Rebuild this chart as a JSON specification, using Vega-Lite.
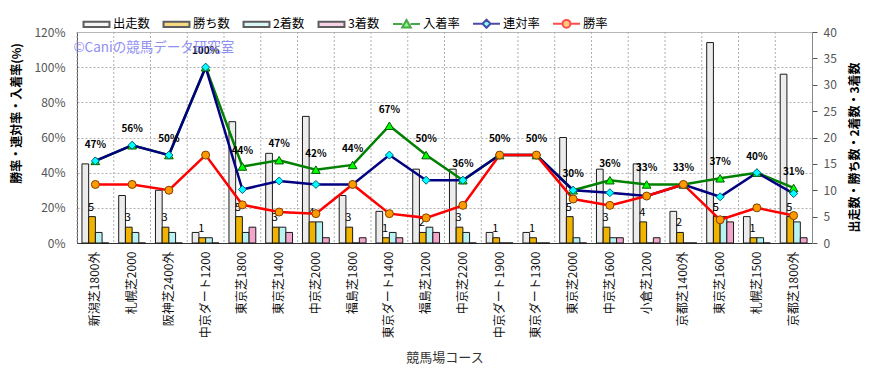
{
  "$schema": "https://vega.github.io/schema/vega-lite/v6.json",
  "width": 735,
  "height": 211,
  "autosize": {"type": "none"},
  "padding": {"left": 77, "top": 32, "right": 69, "bottom": 135},
  "background": "#ffffff",
  "datasets": {
    "courses": [
      {"course": "新潟芝1800外", "出走数": 15, "勝ち数": 5, "2着数": 2, "3着数": 0, "入着率": 0.467, "連対率": 0.467, "勝率": 0.333},
      {"course": "札幌芝2000", "出走数": 9, "勝ち数": 3, "2着数": 2, "3着数": 0, "入着率": 0.556, "連対率": 0.556, "勝率": 0.333},
      {"course": "阪神芝2400外", "出走数": 10, "勝ち数": 3, "2着数": 2, "3着数": 0, "入着率": 0.5, "連対率": 0.5, "勝率": 0.3},
      {"course": "中京ダート1200", "出走数": 2, "勝ち数": 1, "2着数": 1, "3着数": 0, "入着率": 1.0, "連対率": 1.0, "勝率": 0.5},
      {"course": "東京芝1800", "出走数": 23, "勝ち数": 5, "2着数": 2, "3着数": 3, "入着率": 0.435, "連対率": 0.304, "勝率": 0.217},
      {"course": "東京芝1400", "出走数": 17, "勝ち数": 3, "2着数": 3, "3着数": 2, "入着率": 0.471, "連対率": 0.353, "勝率": 0.176},
      {"course": "中京芝2000", "出走数": 24, "勝ち数": 4, "2着数": 4, "3着数": 1, "入着率": 0.417, "連対率": 0.333, "勝率": 0.167},
      {"course": "福島芝1800", "出走数": 9, "勝ち数": 3, "2着数": 0, "3着数": 1, "入着率": 0.444, "連対率": 0.333, "勝率": 0.333},
      {"course": "東京ダート1400", "出走数": 6, "勝ち数": 1, "2着数": 2, "3着数": 1, "入着率": 0.667, "連対率": 0.5, "勝率": 0.167},
      {"course": "福島芝1200", "出走数": 14, "勝ち数": 2, "2着数": 3, "3着数": 2, "入着率": 0.5, "連対率": 0.357, "勝率": 0.143},
      {"course": "中京芝2200", "出走数": 14, "勝ち数": 3, "2着数": 2, "3着数": 0, "入着率": 0.357, "連対率": 0.357, "勝率": 0.214},
      {"course": "中京ダート1900", "出走数": 2, "勝ち数": 1, "2着数": 0, "3着数": 0, "入着率": 0.5, "連対率": 0.5, "勝率": 0.5},
      {"course": "東京ダート1300", "出走数": 2, "勝ち数": 1, "2着数": 0, "3着数": 0, "入着率": 0.5, "連対率": 0.5, "勝率": 0.5},
      {"course": "東京芝2000", "出走数": 20, "勝ち数": 5, "2着数": 1, "3着数": 0, "入着率": 0.3, "連対率": 0.3, "勝率": 0.25},
      {"course": "中京芝1600", "出走数": 14, "勝ち数": 3, "2着数": 1, "3着数": 1, "入着率": 0.357, "連対率": 0.286, "勝率": 0.214},
      {"course": "小倉芝1200", "出走数": 15, "勝ち数": 4, "2着数": 0, "3着数": 1, "入着率": 0.333, "連対率": 0.267, "勝率": 0.267},
      {"course": "京都芝1400外", "出走数": 6, "勝ち数": 2, "2着数": 0, "3着数": 0, "入着率": 0.333, "連対率": 0.333, "勝率": 0.333},
      {"course": "東京芝1600", "出走数": 38, "勝ち数": 5, "2着数": 5, "3着数": 4, "入着率": 0.368, "連対率": 0.263, "勝率": 0.132},
      {"course": "札幌芝1500", "出走数": 5, "勝ち数": 1, "2着数": 1, "3着数": 0, "入着率": 0.4, "連対率": 0.4, "勝率": 0.2},
      {"course": "京都芝1800外", "出走数": 32, "勝ち数": 5, "2着数": 4, "3着数": 1, "入着率": 0.313, "連対率": 0.281, "勝率": 0.156}
    ]
  },
  "data": {"name": "courses"},
  "config": {
    "font": "Noto Sans CJK JP",
    "view": {"fill": "#fbf0d8", "stroke": "#bdbdbd", "strokeWidth": 1},
    "scale": {"bandPaddingInner": 0, "bandPaddingOuter": 0},
    "axis": {"labelFont": "Noto Sans CJK JP", "titleFont": "Noto Sans CJK JP", "labelColor": "#555555", "titleColor": "#000000", "domainColor": "#555555", "tickColor": "#555555"},
    "axisX": {"labelAngle": 270, "labelFontSize": 12, "labelColor": "#111111", "ticks": false, "labelPadding": 8, "domainColor": "#333333", "grid": false, "titleFontSize": 13, "titleFontWeight": "normal", "titleColor": "#333333", "titlePadding": 14},
    "legend": {"orient": "none", "legendX": 5, "legendY": -23, "direction": "horizontal", "padding": 0, "symbolSize": 729, "symbolStrokeWidth": 2, "labelFontSize": 12.3, "labelColor": "#000000", "labelOffset": 2, "columnPadding": 9, "labelFont": "Noto Sans CJK JP"}
  },
  "layer": [
    {
      "mark": {"type": "rule", "strokeDash": [2, 2], "color": "#b0b0b0", "strokeWidth": 1},
      "encoding": {
        "x": {"field": "course", "type": "nominal", "sort": null, "bandPosition": 0, "scale": {"paddingInner": 0, "paddingOuter": 0}, "title": "競馬場コース"}
      }
    },
    {
      "layer": [
        {
          "transform": [{"fold": ["出走数", "勝ち数", "2着数", "3着数"], "as": ["series", "count"]}],
          "mark": {"type": "bar", "stroke": "#1a1a1a", "strokeWidth": 1},
          "encoding": {
            "x": {"field": "course", "type": "nominal", "sort": null, "title": "競馬場コース"},
            "xOffset": {"field": "series", "type": "nominal", "scale": {"domain": ["出走数", "勝ち数", "2着数", "3着数"], "paddingInner": 0, "paddingOuter": 0.74}},
            "y": {
              "field": "count", "type": "quantitative", "scale": {"domain": [0, 40]},
              "title": "出走数・勝ち数・2着数・3着数",
              "axis": {"orient": "right", "values": [0, 5, 10, 15, 20, 25, 30, 35, 40], "grid": false, "tickSize": 5, "labelPadding": 6, "labelFontSize": 12, "titleAngle": 270, "titleFontSize": 12, "titlePadding": 25, "titleY": 115, "domainColor": "#888888"}
            },
            "color": {
              "field": "series", "type": "nominal",
              "scale": {"domain": ["出走数", "勝ち数", "2着数", "3着数"], "range": ["#ececec", "#f0b400", "#b8f2f2", "#f2a6cc"]},
              "legend": null
            }
          }
        },
        {
          "transform": [{"fold": ["出走数", "勝ち数", "2着数", "3着数"], "as": ["series", "count"]}, {"filter": {"field": "series", "equal": "勝ち数"}}],
          "mark": {"type": "text", "dy": -9, "dx": -1, "fontSize": 11, "color": "#000000"},
          "encoding": {
            "x": {"field": "course", "type": "nominal", "sort": null, "title": "競馬場コース"},
            "xOffset": {"field": "series", "type": "nominal", "scale": {"domain": ["出走数", "勝ち数", "2着数", "3着数"], "paddingInner": 0, "paddingOuter": 0.74}},
            "y": {
              "field": "count", "type": "quantitative", "scale": {"domain": [0, 40]},
              "title": "出走数・勝ち数・2着数・3着数",
              "axis": {"orient": "right", "values": [0, 5, 10, 15, 20, 25, 30, 35, 40], "grid": false, "tickSize": 5, "labelPadding": 6, "labelFontSize": 12, "titleAngle": 270, "titleFontSize": 12, "titlePadding": 25, "titleY": 115, "domainColor": "#888888"}
            },
            "text": {"field": "count", "type": "quantitative"}
          }
        }
      ]
    },
    {
      "encoding": {
        "x": {"field": "course", "type": "nominal", "sort": null, "title": "競馬場コース"}
      },
      "layer": [
        {
          "mark": {"type": "line", "strokeWidth": 2.5, "color": "#008000"},
          "encoding": {
            "y": {
              "field": "入着率", "type": "quantitative", "scale": {"domain": [0, 1.2]},
              "title": "勝率・連対率・入着率(%)",
              "axis": {"orient": "left", "values": [0, 0.2, 0.4, 0.6, 0.8, 1.0, 1.2], "format": ".0%", "grid": true, "gridDash": [2, 2], "gridColor": "#b0b0b0", "ticks": false, "labelPadding": 12, "labelFontSize": 12, "titleFontSize": 12, "titlePadding": 10, "titleY": 81}
            }
          }
        },
        {
          "mark": {"type": "line", "strokeWidth": 2.5, "color": "#000080"},
          "encoding": {
            "y": {
              "field": "連対率", "type": "quantitative", "scale": {"domain": [0, 1.2]},
              "title": "勝率・連対率・入着率(%)",
              "axis": {"orient": "left", "values": [0, 0.2, 0.4, 0.6, 0.8, 1.0, 1.2], "format": ".0%", "grid": true, "gridDash": [2, 2], "gridColor": "#b0b0b0", "ticks": false, "labelPadding": 12, "labelFontSize": 12, "titleFontSize": 12, "titlePadding": 10, "titleY": 81}
            }
          }
        },
        {
          "mark": {"type": "line", "strokeWidth": 2.5, "color": "#ff0000"},
          "encoding": {
            "y": {
              "field": "勝率", "type": "quantitative", "scale": {"domain": [0, 1.2]},
              "title": "勝率・連対率・入着率(%)",
              "axis": {"orient": "left", "values": [0, 0.2, 0.4, 0.6, 0.8, 1.0, 1.2], "format": ".0%", "grid": true, "gridDash": [2, 2], "gridColor": "#b0b0b0", "ticks": false, "labelPadding": 12, "labelFontSize": 12, "titleFontSize": 12, "titlePadding": 10, "titleY": 81}
            }
          }
        },
        {
          "mark": {"type": "point", "shape": "triangle-up", "filled": true, "fill": "#00ff00", "stroke": "#005a00", "strokeWidth": 1, "size": 75, "opacity": 1},
          "encoding": {
            "y": {
              "field": "入着率", "type": "quantitative", "scale": {"domain": [0, 1.2]},
              "title": "勝率・連対率・入着率(%)",
              "axis": {"orient": "left", "values": [0, 0.2, 0.4, 0.6, 0.8, 1.0, 1.2], "format": ".0%", "grid": true, "gridDash": [2, 2], "gridColor": "#b0b0b0", "ticks": false, "labelPadding": 12, "labelFontSize": 12, "titleFontSize": 12, "titlePadding": 10, "titleY": 81}
            }
          }
        },
        {
          "mark": {"type": "point", "shape": "diamond", "filled": true, "fill": "#00ffff", "stroke": "#006080", "strokeWidth": 1, "size": 64, "opacity": 1},
          "encoding": {
            "y": {
              "field": "連対率", "type": "quantitative", "scale": {"domain": [0, 1.2]},
              "title": "勝率・連対率・入着率(%)",
              "axis": {"orient": "left", "values": [0, 0.2, 0.4, 0.6, 0.8, 1.0, 1.2], "format": ".0%", "grid": true, "gridDash": [2, 2], "gridColor": "#b0b0b0", "ticks": false, "labelPadding": 12, "labelFontSize": 12, "titleFontSize": 12, "titlePadding": 10, "titleY": 81}
            }
          }
        },
        {
          "mark": {"type": "point", "shape": "circle", "filled": true, "fill": "#ff9900", "stroke": "#804000", "strokeWidth": 1, "size": 64, "opacity": 1},
          "encoding": {
            "y": {
              "field": "勝率", "type": "quantitative", "scale": {"domain": [0, 1.2]},
              "title": "勝率・連対率・入着率(%)",
              "axis": {"orient": "left", "values": [0, 0.2, 0.4, 0.6, 0.8, 1.0, 1.2], "format": ".0%", "grid": true, "gridDash": [2, 2], "gridColor": "#b0b0b0", "ticks": false, "labelPadding": 12, "labelFontSize": 12, "titleFontSize": 12, "titlePadding": 10, "titleY": 81}
            }
          }
        },
        {
          "mark": {"type": "text", "dy": -16, "fontSize": 10, "fontWeight": "bold", "color": "#000000"},
          "encoding": {
            "y": {
              "field": "入着率", "type": "quantitative", "scale": {"domain": [0, 1.2]},
              "title": "勝率・連対率・入着率(%)",
              "axis": {"orient": "left", "values": [0, 0.2, 0.4, 0.6, 0.8, 1.0, 1.2], "format": ".0%", "grid": true, "gridDash": [2, 2], "gridColor": "#b0b0b0", "ticks": false, "labelPadding": 12, "labelFontSize": 12, "titleFontSize": 12, "titlePadding": 10, "titleY": 81}
            },
            "text": {"field": "入着率", "type": "quantitative", "format": ".0%"}
          }
        },
        {
          "data": {"values": [{"label": "©Caniの競馬データ研究室"}]},
          "mark": {"type": "text", "align": "left", "baseline": "middle", "dx": -22, "fontSize": 13.5, "color": "#8484f0", "opacity": 0.9},
          "encoding": {
            "x": {"datum": "新潟芝1800外", "type": "nominal", "title": "競馬場コース"},
            "y": {
              "datum": 1.109, "type": "quantitative", "scale": {"domain": [0, 1.2]},
              "title": "勝率・連対率・入着率(%)",
              "axis": {"orient": "left", "values": [0, 0.2, 0.4, 0.6, 0.8, 1.0, 1.2], "format": ".0%", "grid": true, "gridDash": [2, 2], "gridColor": "#b0b0b0", "ticks": false, "labelPadding": 12, "labelFontSize": 12, "titleFontSize": 12, "titlePadding": 10, "titleY": 81}
            },
            "text": {"field": "label", "type": "nominal"}
          }
        }
      ]
    },
    {
      "data": {"values": []},
      "mark": {"type": "point", "filled": true},
      "encoding": {
        "fill": {
          "field": "series", "type": "nominal", "title": null,
          "scale": {"domain": ["出走数", "勝ち数", "2着数", "3着数", "入着率", "連対率", "勝率"], "range": ["#ececec", "#f0b400", "#b8f2f2", "#f2a6cc", "#00ff00", "#00ffff", "#ff9900"]}
        },
        "stroke": {
          "field": "series", "type": "nominal", "title": null,
          "scale": {"domain": ["出走数", "勝ち数", "2着数", "3着数", "入着率", "連対率", "勝率"], "range": ["#1a1a1a", "#1a1a1a", "#1a1a1a", "#1a1a1a", "#008000", "#000080", "#ff0000"]}
        },
        "shape": {
          "field": "series", "type": "nominal", "title": null,
          "scale": {
            "domain": ["出走数", "勝ち数", "2着数", "3着数", "入着率", "連対率", "勝率"],
            "range": [
              "M-0.96,-0.2H0.96V0.2H-0.96Z",
              "M-0.96,-0.2H0.96V0.2H-0.96Z",
              "M-0.96,-0.2H0.96V0.2H-0.96Z",
              "M-0.96,-0.2H0.96V0.2H-0.96Z",
              "M-1,0H-0.3M0.3,0H1M0,-0.3L0.32,0.26L-0.32,0.26Z",
              "M-1,0H-0.3M0.3,0H1M0,-0.3L0.3,0L0,0.3L-0.3,0Z",
              "M-1,0H-0.3M0.3,0H1M-0.29,0A0.29,0.29 0 1,0 0.29,0A0.29,0.29 0 1,0 -0.29,0Z"
            ]
          }
        }
      }
    }
  ],
  "resolve": {"scale": {"y": "independent"}, "axis": {"y": "independent"}}
}
